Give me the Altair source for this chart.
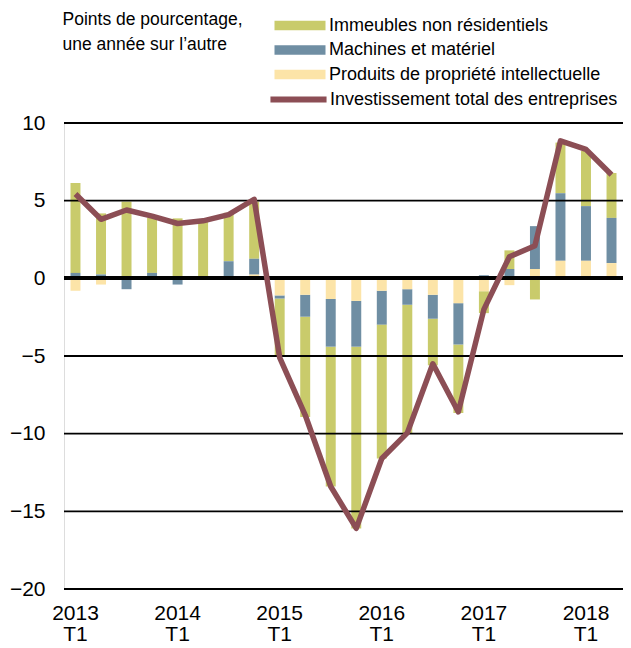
import altair as alt
import pandas as pd

quarters = ["2013T1", "2013T2", "2013T3", "2013T4",
            "2014T1", "2014T2", "2014T3", "2014T4",
            "2015T1", "2015T2", "2015T3", "2015T4",
            "2016T1", "2016T2", "2016T3", "2016T4",
            "2017T1", "2017T2", "2017T3", "2017T4",
            "2018T1", "2018T2"]

immeubles = [5.78, 3.93, 4.94, 3.55, 3.86, 3.75, 3.12, 3.68,
             -3.73, -6.45, -9.0, -11.7, -8.62, -8.3, -3.0, -4.41,
             -1.41, 1.2, -1.36, 3.26, 3.55, 2.89]
machines = [0.35, 0.25, -0.6, 0.35, -0.4, 0.0, 1.1, 1.02,
            -0.2, -1.41, -3.07, -2.95, -2.18, -1.0, -1.54, -2.66,
            0.2, 0.6, 2.76, 4.35, 3.52, 2.91]
produits = [-0.8, -0.4, -0.1, 0.0, 0.0, 0.0, 0.0, 0.24,
            -1.1, -1.06, -1.33, -1.45, -0.8, -0.7, -1.06, -1.6,
            -0.83, -0.44, 0.6, 1.13, 1.13, 0.98]
total = [5.43, 3.8, 4.4, 4.0, 3.53, 3.7, 4.1, 5.09,
         -5.1, -8.8, -13.4, -16.1, -11.6, -9.95, -5.5, -8.6,
         -2.0, 1.39, 2.1, 8.85, 8.3, 6.67]

series_names = ["Immeubles non résidentiels", "Machines et matériel",
                "Produits de propriété intellectuelle"]
line_name = "Investissement total des entreprises"
colors = ["#C9CB6B", "#6F8EA3", "#FCE4A8"]
line_color = "#8C4E55"
y_ticks = [-20, -15, -10, -5, 0, 5, 10]

rows = []
for i, q in enumerate(quarters):
    for k, (name, vals) in enumerate(zip(series_names, [immeubles, machines, produits])):
        rows.append({"q": q, "serie": name, "v": vals[i], "ord": 2 - k})
bars_df = pd.DataFrame(rows)
line_df = pd.DataFrame({"q": quarters, "v": total, "serie": line_name})
grid_df = pd.DataFrame({"y": y_ticks})

FONT = "Liberation Sans"

x_enc = alt.X("q:N", sort=quarters, title=None,
              scale=alt.Scale(paddingInner=0.61, paddingOuter=0.255),
              axis=alt.Axis(labelAngle=0, ticks=False, domain=False,
                            labelFontSize=21, labelFont=FONT, labelColor="black",
                            labelLineHeight=21, labelPadding=13,
                            labelExpr="substring(datum.value,4)=='T1' ? [substring(datum.value,0,4), 'T1'] : ''"))

y_scale = alt.Scale(domain=[-20, 10], nice=False, zero=False)

bars = alt.Chart(bars_df).mark_bar().encode(
    x=x_enc,
    y=alt.Y("v:Q", stack="zero", scale=y_scale,
            axis=alt.Axis(values=y_ticks, grid=False, ticks=False, domain=False,
                          labelFontSize=21, labelFont=FONT, labelColor="black",
                          labelPadding=19,
                          title=["Points de pourcentage,", "une année sur l’autre"],
                          titleAngle=0, titleAlign="left", titleBaseline="top",
                          titleX=-2, titleY=-113, titleFontSize=17.5,
                          titleFontWeight="normal", titleFont=FONT,
                          titleColor="black", titleLineHeight=25)),
    fill=alt.Fill("serie:N",
                  scale=alt.Scale(domain=series_names, range=colors),
                  legend=alt.Legend(orient="none", legendX=227, legendY=-106.5,
                                    title=None, padding=0,
                                    symbolType="M -4 -0.745 H 4 V 0.745 H -4 Z",
                                    symbolSize=162.6, symbolStrokeWidth=0,
                                    labelOffset=20, labelFontSize=18,
                                    labelFont=FONT, labelColor="black",
                                    labelLimit=500, rowPadding=6.5)),
    order=alt.Order("ord:Q"),
)

grid = alt.Chart(grid_df).mark_rule(color="black", strokeWidth=1.8).encode(
    y=alt.Y("y:Q", scale=y_scale))

zero = alt.Chart(grid_df).mark_rule(color="black", strokeWidth=3.5).encode(
    y=alt.datum(0))

line = alt.Chart(line_df).mark_line(strokeWidth=5.5, strokeJoin="round").encode(
    x=alt.X("q:N", sort=quarters),
    y=alt.Y("v:Q", scale=y_scale),
    stroke=alt.Stroke("serie:N",
                      scale=alt.Scale(domain=[line_name], range=[line_color]),
                      legend=alt.Legend(orient="none", legendX=225, legendY=-33,
                                        title=None, padding=0,
                                        symbolType="M -4.4 0 H 4.4",
                                        symbolSize=162.6, symbolStrokeWidth=6,
                                        labelOffset=22, labelFontSize=18,
                                        labelFont=FONT, labelColor="black",
                                        labelLimit=500)),
)

chart = alt.layer(bars, grid, zero, line).properties(
    width=559, height=466,
    autosize=alt.AutoSizeParams(type="none"),
    padding={"left": 56, "top": 115, "right": 0, "bottom": 58},
).configure_view(stroke=None).configure(font=FONT)

chart.save("out.html", embed_options={"renderer": "svg", "actions": False})
